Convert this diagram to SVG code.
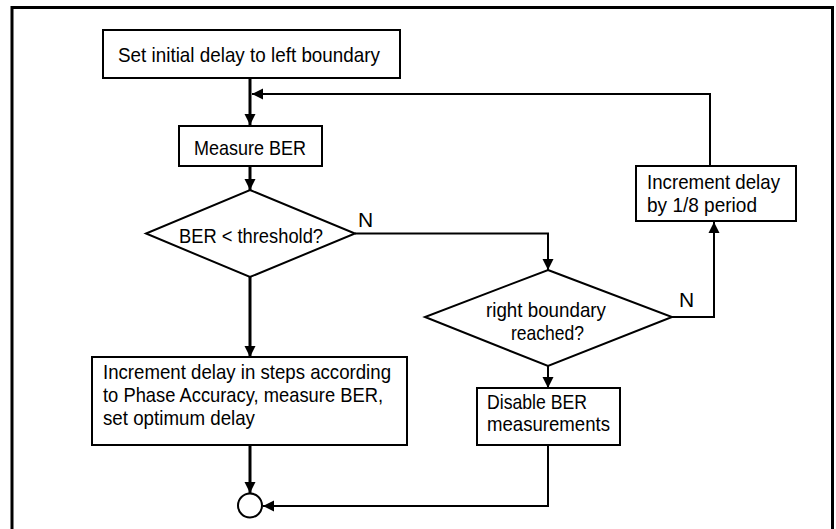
<svg xmlns="http://www.w3.org/2000/svg" width="836" height="529" viewBox="0 0 836 529">
<style>
.box{fill:#fff;stroke:#000;stroke-width:2}
.t{font-family:"Liberation Sans Narrow","Liberation Sans",Arial,sans-serif;font-size:21px;fill:#000}
.thick{fill:none;stroke:#000;stroke-width:3}
.thin{fill:none;stroke:#000;stroke-width:2}
</style>
<defs>
<marker id="ah" markerUnits="userSpaceOnUse" markerWidth="12" markerHeight="12" refX="11" refY="6" orient="auto">
<path d="M0,0.5 L11,6 L0,11.5 Z" fill="#000"/>
</marker>
</defs>
<rect x="0" y="0" width="836" height="529" fill="#fff"/>
<rect x="12" y="7.5" width="820.5" height="540" fill="none" stroke="#000" stroke-width="3"/>
<g id="connectors">
<path class="thick" d="M250,78 V125" marker-end="url(#ah)"/>
<path class="thin" d="M710,166 V94 H252" marker-end="url(#ah)"/>
<path class="thick" d="M250,166 V190" marker-end="url(#ah)"/>
<path class="thick" d="M250,277 V357" marker-end="url(#ah)"/>
<path class="thin" d="M355,233.5 H548 V270" marker-end="url(#ah)"/>
<path class="thin" d="M672,317 H714 V222" marker-end="url(#ah)"/>
<path class="thin" d="M548,366 V388" marker-end="url(#ah)"/>
<path class="thick" d="M250,445 V493" marker-end="url(#ah)"/>
<path class="thin" d="M548,445 V506 H263" marker-end="url(#ah)"/>
<text class="t" x="358" y="227">N</text>
<text class="t" x="679" y="307">N</text>
</g>
<g id="start">
<rect class="box" x="103" y="30" width="297" height="48"/>
<text class="t" x="118" y="62" textLength="262" lengthAdjust="spacingAndGlyphs">Set initial delay to left boundary</text>
</g>
<g id="measure">
<rect class="box" x="179" y="126" width="143" height="40"/>
<text class="t" x="194" y="155" textLength="112" lengthAdjust="spacingAndGlyphs">Measure BER</text>
</g>
<g id="decision1">
<polygon class="box" points="250,190 355,233.5 250,277 146,233.5"/>
<text class="t" x="179" y="243" textLength="144" lengthAdjust="spacingAndGlyphs">BER &lt; threshold?</text>
</g>
<g id="decision2">
<polygon class="box" points="548,270 672,317 548,366 425,317"/>
<text class="t" x="486" y="317" textLength="120" lengthAdjust="spacingAndGlyphs">right boundary</text>
<text class="t" x="511" y="340" textLength="73" lengthAdjust="spacingAndGlyphs">reached?</text>
</g>
<g id="increment18">
<rect class="box" x="636" y="166" width="160" height="55"/>
<text class="t" x="647" y="189" textLength="133" lengthAdjust="spacingAndGlyphs">Increment delay</text>
<text class="t" x="647" y="212" textLength="110" lengthAdjust="spacingAndGlyphs">by 1/8 period</text>
</g>
<g id="incrementsteps">
<rect class="box" x="92" y="357" width="315" height="88"/>
<text class="t" x="103" y="379" textLength="288" lengthAdjust="spacingAndGlyphs">Increment delay in steps according</text>
<text class="t" x="103" y="402" textLength="280" lengthAdjust="spacingAndGlyphs">to Phase Accuracy, measure BER,</text>
<text class="t" x="103" y="425" textLength="152" lengthAdjust="spacingAndGlyphs">set optimum delay</text>
</g>
<g id="disable">
<rect class="box" x="477" y="388" width="143" height="57"/>
<text class="t" x="487" y="409" textLength="100" lengthAdjust="spacingAndGlyphs">Disable BER</text>
<text class="t" x="487" y="431" textLength="123" lengthAdjust="spacingAndGlyphs">measurements</text>
</g>
<g id="end">
<circle cx="250" cy="505.5" r="12" fill="#fff" stroke="#000" stroke-width="2"/>
</g>
</svg>
